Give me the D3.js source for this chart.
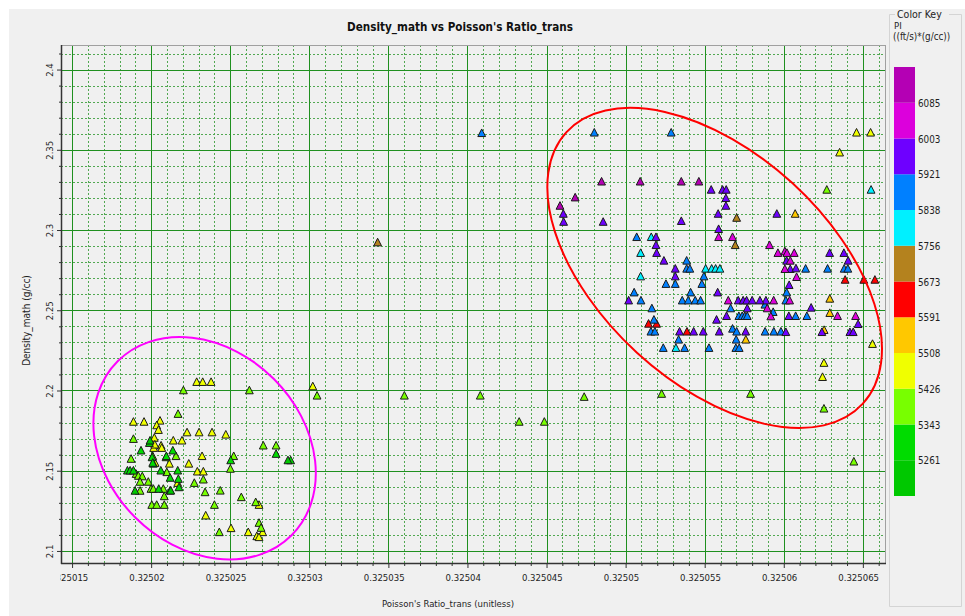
<!DOCTYPE html>
<html>
<head>
<meta charset="utf-8">
<script src="https://cdn.jsdelivr.net/npm/d3@7"></script>
<style>
  html, body { margin: 0; padding: 0; background: #ffffff; }
  svg { display: block; }
  text { font-family: "DejaVu Sans Condensed", "DejaVu Sans", sans-serif; }
</style>
</head>
<body>
<svg id="chart" width="965" height="616"></svg>
<script>
// ---- Axis ticks -------------------------------------------------------------
const xTicks = [0.325015, 0.32502, 0.325025, 0.32503, 0.325035, 0.32504, 0.325045, 0.32505, 0.325055, 0.32506, 0.325065];
const xTickLabels = ["0.325015", "0.32502", "0.325025", "0.32503", "0.325035", "0.32504", "0.325045", "0.32505", "0.325055", "0.32506", "0.325065"];
const yTicks = [2.1, 2.15, 2.2, 2.25, 2.3, 2.35, 2.4];
const yTickLabels = ["2.1", "2.15", "2.2", "2.25", "2.3", "2.35", "2.4"];

// ---- Colour key: PI class breaks and colours (low -> high) -------------------
const piBreaks = [5261, 5343, 5426, 5508, 5591, 5673, 5756, 5838, 5921, 6003, 6085];
const piColors = ["#00c800", "#00dc00", "#78ff00", "#f0ff00", "#ffc800", "#ff0000",
                  "#b4821e", "#00f0ff", "#0080ff", "#6e00ff", "#dc00dc", "#b400b4"];

// ---- Samples: Poisson's ratio, density and PI --------------------------------
const poissonRatio = [
  // 5426-5508
  0.32502288,0.32502326,0.32502379,0.32501888,0.32501955,0.32502056,0.32502035,0.32502046,0.32502227,0.32502303,0.32502385,0.32502472,0.3250202,0.32502063,0.32502067,0.3250214,0.32502195,0.32502322,0.32502115,0.32502238,0.32502292,0.3250233,0.32502168,0.32502682,0.32502345,0.32502505,0.32502614,0.32502668,0.32502705,0.32502682,0.32502016,0.32502023,0.32502025,0.32503022,
  // 5343-5426
  0.32502204,0.32502621,0.3250217,0.32501888,0.32502094,0.32502157,0.32502709,0.3250279,0.32502522,0.32502501,0.32501873,0.32502099,0.32501905,0.32501919,0.32501944,0.3250193,0.32501982,0.32502273,0.3250233,0.3250193,0.32501999,0.32502014,0.32502077,0.32502341,0.32502437,0.32502083,0.3250257,0.32502004,0.32502035,0.32502083,0.325024,0.32502661,0.32502682,0.32502431,0.32502695,0.3250201,
  0.32503049,0.32503601,0.32504081,0.32504327,0.32504486,0.32504738,0.32505228,0.3250579,0.32506254,0.32506443,0.32506272,
  // 5261-5343
  0.32501936,0.32502137,0.32502006,0.3250279,0.32502882,0.32502503,0.32502014,0.32502061,0.32502168,0.3250185,0.32501867,0.32501888,0.3250212,0.32502172,0.32502176,0.32502048,0.3250212,0.32501989,0.32502096,0.3250201,
  // below 5261
  0.32501993,0.32502865,0.32501898,0.32502124,
  // 5508-5591
  0.32506072,0.32506291,0.32506291,0.32506255,0.3250576,
  // 5426-5508
  0.3250646,0.32506549,0.32506353,0.32506561,0.32506254,0.32506245,
  // 5591-5673
  0.32506388,0.32506506,0.32506576,0.32505145,0.32505196,0.32505388,
  // 5673-5756
  0.32503432,0.32505702,0.32505693,
  // 5756-5838
  0.32506552,0.32505162,0.32505095,0.32505095,0.32505506,0.32505544,0.32505569,0.32505596,0.32505318,
  // 5838-5921
  0.3250409,0.32504802,0.32505288,0.3250507,0.32505386,0.32505386,0.32505406,0.32505255,0.32505314,0.32505495,
  0.32505482,0.32505054,0.32505097,0.32505411,0.32505358,0.32505396,0.3250544,0.32505474,0.32506018,0.32506013,
  0.32505166,0.32505664,0.32505933,0.32505716,0.32505737,0.32505754,0.32505769,0.32506075,0.32506146,0.32506138,
  0.32506277,0.32506382,0.32506405,0.32505881,0.32505179,0.3250516,0.32505185,0.32505676,0.32505702,0.32505882,
  0.32505937,0.32505982,0.32505335,0.32505699,0.32505238,0.32505373,0.32505527,0.32505697,0.32505718,
  // 5921-6003
  0.32505541,0.32505613,0.32505636,0.32505634,0.32505634,0.32504606,0.32504608,0.32504858,0.32505352,0.32505585,
  0.32505956,0.32505588,0.32505192,0.32505192,0.32505196,0.3250629,0.3250638,0.32506018,0.32506407,0.32506041,
  0.32506077,0.32506034,0.32505887,0.32506173,0.32506032,0.3250647,0.32506013,0.32506241,0.32506418,0.32506439,
  0.32505242,0.32505314,0.32505314,0.32505019,0.32505582,0.32505712,0.32505743,0.32505765,0.325058,0.32505849,
  0.32505769,0.32505638,0.32505575,0.32505341,0.3250543,0.32505491,0.32505592,0.32505759,
  // 6003-6085
  0.32505588,0.32505676,0.3250591,0.32505963,0.32506007,0.3250602,0.32506066,0.32506041,0.32506007,0.32506081,
  0.32505936,0.32506037,0.32505895,0.32505918,0.3250634,0.32506454,0.32505649,
  // above 6085
  0.32504848,0.32505092,0.32505352,0.32505463,0.32504681,0.32504585
];

const densityMath = [
  // 5426-5508
  2.2052,2.2052,2.2052,2.1804,2.1804,2.1811,2.1782,2.1753,2.1738,2.1738,2.1738,2.1724,2.1704,2.1656,2.1641,2.1687,2.1687,2.1590,2.1543,2.1543,2.1494,2.1494,2.1423,2.1286,2.1220,2.1141,2.1116,2.1091,2.1116,2.1085,2.1641,2.1662,2.1548,2.2025,
  // 5343-5426
  2.2000,2.2000,2.1853,2.1697,2.1583,2.1590,2.1656,2.1656,2.1590,2.1511,2.1573,2.1490,2.1479,2.1467,2.1464,2.1430,2.1430,2.1423,2.1444,2.1374,2.1386,2.1386,2.1386,2.1365,2.1375,2.1340,2.1334,2.1286,2.1286,2.1286,2.1286,2.1303,2.1174,2.1116,2.1143,2.1590,
  2.1967,2.1967,2.1967,2.1804,2.1804,2.1959,2.1978,2.1978,2.1886,2.1556,2.3250,
  // 5261-5343
  2.1625,2.1625,2.1583,2.1604,2.1564,2.1564,2.1543,2.1500,2.1500,2.1500,2.1500,2.1500,2.1455,2.1448,2.1396,2.1386,2.1375,2.1672,2.1590,2.1548,
  // below 5261
  2.1687,2.1564,2.1374,2.1375,
  // 5508-5591
  2.3100,2.2571,2.2482,2.2376,2.2316,
  // 5426-5508
  2.3606,2.3606,2.3482,2.2289,2.2171,2.2083,
  // 5591-5673
  2.2689,2.2689,2.2689,2.2415,2.2415,2.2366,
  // 5673-5756
  2.2922,2.3075,2.2905,
  // 5756-5838
  2.3250,2.2955,2.2856,2.2710,2.2758,2.2758,2.2758,2.2758,2.2264,
  // 5838-5921
  2.3603,2.3606,2.3606,2.2955,2.2808,2.2758,2.2758,2.2663,2.2663,2.2710,
  2.2663,2.2610,2.2560,2.2610,2.2560,2.2560,2.2560,2.2560,2.2610,2.2560,
  2.2511,2.2511,2.2488,2.2463,2.2463,2.2463,2.2463,2.2463,2.2463,2.2758,
  2.2758,2.2758,2.2758,2.2534,2.2440,2.2366,2.2366,2.2384,2.2366,2.2366,
  2.2366,2.2366,2.2316,2.2316,2.2264,2.2264,2.2264,2.2264,2.2264,
  // 5921-6003
  2.3250,2.3250,2.3250,2.3198,2.3150,2.3100,2.3050,2.3050,2.3055,2.3100,
  2.3100,2.3005,2.2955,2.2905,2.2856,2.2856,2.2856,2.2808,2.2808,2.2756,
  2.2760,2.2656,2.2560,2.2515,2.2463,2.2413,2.2363,2.2363,2.2363,2.2363,
  2.2808,2.2758,2.2710,2.2560,2.2610,2.2560,2.2560,2.2560,2.2560,2.2560,
  2.2511,2.2463,2.2440,2.2366,2.2366,2.2366,2.2366,2.2366,
  // 6003-6085
  2.2955,2.2955,2.2905,2.2856,2.2866,2.2856,2.2856,2.2808,2.2756,2.2706,
  2.2560,2.2560,2.2511,2.2461,2.2463,2.2463,2.2560,
  // above 6085
  2.3301,2.3301,2.3301,2.3301,2.3202,2.3150
];

const piValue = [
  // 5426-5508
  5470,5470,5470,5470,5470,5470,5470,5470,5470,5470,5470,5470,5470,5470,5470,5470,5470,5470,5470,5470,5470,5470,5470,5470,5470,5470,5470,5470,5470,5470,5470,5470,5470,5470,
  // 5343-5426
  5390,5390,5390,5390,5390,5390,5390,5390,5390,5390,5390,5390,5390,5390,5390,5390,5390,5390,5390,5390,5390,5390,5390,5390,5390,5390,5390,5390,5390,5390,5390,5390,5390,5390,5390,5390,
  5390,5390,5390,5390,5390,5390,5390,5390,5390,5390,5390,
  // 5261-5343
  5300,5300,5300,5300,5300,5300,5300,5300,5300,5300,5300,5300,5300,5300,5300,5300,5300,5300,5300,5300,
  // below 5261
  5230,5230,5230,5230,
  // 5508-5591
  5550,5550,5550,5550,5550,
  // 5426-5508
  5470,5470,5470,5470,5470,5470,
  // 5591-5673
  5630,5630,5630,5630,5630,5630,
  // 5673-5756
  5710,5710,5710,
  // 5756-5838
  5800,5800,5800,5800,5800,5800,5800,5800,5800,
  // 5838-5921
  5880,5880,5880,5880,5880,5880,5880,5880,5880,5880,
  5880,5880,5880,5880,5880,5880,5880,5880,5880,5880,
  5880,5880,5880,5880,5880,5880,5880,5880,5880,5880,
  5880,5880,5880,5880,5880,5880,5880,5880,5880,5880,
  5880,5880,5880,5880,5880,5880,5880,5880,5880,
  // 5921-6003
  5960,5960,5960,5960,5960,5960,5960,5960,5960,5960,
  5960,5960,5960,5960,5960,5960,5960,5960,5960,5960,
  5960,5960,5960,5960,5960,5960,5960,5960,5960,5960,
  5960,5960,5960,5960,5960,5960,5960,5960,5960,5960,
  5960,5960,5960,5960,5960,5960,5960,5960,
  // 6003-6085
  6040,6040,6040,6040,6040,6040,6040,6040,6040,6040,
  6040,6040,6040,6040,6040,6040,6040,
  // above 6085
  6120,6120,6120,6120,6120,6120
];

// Hand-drawn cluster outlines: centre in data units, axes in screen pixels.
const clusterOutlines = [
  { cx: 0.32502338, cy: 2.1640, rx: 123, ry: 98, angle: 45, stroke: "#ff00ff" },
  { cx: 0.32505563, cy: 2.2764, rx: 201, ry: 115, angle: 42.5, stroke: "#ff0000" }
];

// ---- Layout -------------------------------------------------------------------
const W = 965, H = 616;
const plot = { left: 61, right: 885, top: 45, bottom: 563 };
const textColor = "#1e1e1e";

const svg = d3.select("#chart");
svg.append("rect").attr("width", W).attr("height", H).attr("fill", "#ffffff");
svg.append("rect").attr("x", 9).attr("y", 9).attr("width", W - 9).attr("height", H - 9).attr("fill", "#f0f0f0");

const x = d3.scaleLinear().domain([0.3250143, 0.3250664]).range([plot.left, plot.right]);
const y = d3.scaleLinear().domain([2.0925, 2.4153]).range([plot.bottom, plot.top]);
const piColor = d3.scaleThreshold().domain(piBreaks).range(piColors);

const defs = svg.append("defs");
defs.append("clipPath").attr("id", "plotClip")
  .append("rect").attr("x", plot.left).attr("y", plot.top)
  .attr("width", plot.right - plot.left).attr("height", plot.bottom - plot.top);
// the x-axis group is translated to the bottom edge, so this rect is in its local space
defs.append("clipPath").attr("id", "xLabelClip")
  .append("rect").attr("x", 60.5).attr("y", -2).attr("width", W).attr("height", 40);

const crisp = v => Math.round(v) + 0.5;

// minor grid values (every 1e-6 on x, every 0.01 on y)
const xMinor = d3.range(15, 67).filter(i => i % 5 !== 0).map(i => +(0.325 + i * 1e-6).toFixed(7));
const yMinor = d3.range(210, 242).filter(i => i % 5 !== 0).map(i => i / 100);

// ---- Grid ---------------------------------------------------------------------
const grid = svg.append("g").attr("clip-path", "url(#plotClip)");
grid.selectAll("line.vmin").data(xMinor).join("line").attr("class", "vmin")
  .attr("x1", d => crisp(x(d))).attr("x2", d => crisp(x(d)))
  .attr("y1", plot.top).attr("y2", plot.bottom)
  .attr("stroke", "#52a852").attr("stroke-width", 1).attr("stroke-dasharray", "2,2");
grid.selectAll("line.hmin").data(yMinor).join("line").attr("class", "hmin")
  .attr("y1", d => crisp(y(d))).attr("y2", d => crisp(y(d)))
  .attr("x1", plot.left).attr("x2", plot.right)
  .attr("stroke", "#52a852").attr("stroke-width", 1).attr("stroke-dasharray", "2,2");
grid.selectAll("line.vmaj").data(xTicks).join("line").attr("class", "vmaj")
  .attr("x1", d => crisp(x(d))).attr("x2", d => crisp(x(d)))
  .attr("y1", plot.top).attr("y2", plot.bottom)
  .attr("stroke", "#1f901f").attr("stroke-width", 1);
grid.selectAll("line.hmaj").data(yTicks).join("line").attr("class", "hmaj")
  .attr("y1", d => crisp(y(d))).attr("y2", d => crisp(y(d)))
  .attr("x1", plot.left).attr("x2", plot.right)
  .attr("stroke", "#1f901f").attr("stroke-width", 1);

// frame: light top/right, dark axis lines left/bottom
svg.append("line").attr("x1", plot.left).attr("x2", plot.right + 0.5).attr("y1", plot.top + 0.5).attr("y2", plot.top + 0.5)
  .attr("stroke", "#a0a0a0");
svg.append("line").attr("x1", plot.right + 0.5).attr("x2", plot.right + 0.5).attr("y1", plot.top).attr("y2", plot.bottom)
  .attr("stroke", "#a0a0a0");

// ---- Axes ---------------------------------------------------------------------
const axisColor = "#333333";
const tickFont = 9.5;
const xMinorAxis = svg.append("g").attr("transform", `translate(0,${plot.bottom})`)
  .call(d3.axisBottom(x).tickValues(xMinor).tickSize(3).tickFormat(""));
const xAxis = svg.append("g").attr("transform", `translate(0,${plot.bottom})`)
  .attr("clip-path", "url(#xLabelClip)")
  .call(d3.axisBottom(x).tickValues(xTicks).tickSize(5).tickFormat((d, i) => xTickLabels[i]));
xAxis.selectAll("text").attr("y", 11).attr("x", -4.7).attr("dy", "0.71em")
  .attr("font-size", tickFont).attr("fill", textColor);

const yMinorAxis = svg.append("g").attr("transform", `translate(${plot.left},0)`)
  .call(d3.axisLeft(y).tickValues(yMinor).tickSize(2).tickFormat(""));
const yAxis = svg.append("g").attr("transform", `translate(${plot.left},0)`)
  .call(d3.axisLeft(y).tickValues(yTicks).tickSize(4).tickFormat((d, i) => yTickLabels[i]));
yAxis.selectAll("text").attr("transform", "rotate(-90)")
  .attr("x", 0).attr("y", -7.7).attr("dy", 0).attr("text-anchor", "middle")
  .attr("font-size", tickFont).attr("fill", textColor);

[xMinorAxis, xAxis, yMinorAxis, yAxis].forEach(g => {
  g.select(".domain").remove();
  g.selectAll(".tick line").attr("stroke", axisColor);
});

svg.append("line").attr("x1", plot.left + 0.5).attr("x2", plot.left + 0.5).attr("y1", plot.top).attr("y2", plot.bottom + 1)
  .attr("stroke", axisColor).attr("stroke-width", 1.5);
svg.append("line").attr("x1", plot.left).attr("x2", plot.right + 1).attr("y1", plot.bottom + 0.5).attr("y2", plot.bottom + 0.5)
  .attr("stroke", axisColor).attr("stroke-width", 1.5);

// ---- Points -------------------------------------------------------------------
const n = Math.min(poissonRatio.length, densityMath.length, piValue.length);
const samples = d3.range(n).map(i => ({ pr: poissonRatio[i], rho: densityMath[i], pi: piValue[i] }));
const tri = "M0,-4.3L3.9,3.3L-3.9,3.3Z";

svg.append("g").attr("clip-path", "url(#plotClip)")
  .selectAll("path").data(samples).join("path")
  .attr("d", tri)
  .attr("transform", d => `translate(${x(d.pr)},${y(d.rho)})`)
  .attr("fill", d => piColor(d.pi))
  .attr("stroke", "#1a1a1a").attr("stroke-width", 1).attr("stroke-linejoin", "miter");

// ---- Cluster outlines ------------------------------------------------------------
svg.append("g").attr("clip-path", "url(#plotClip)")
  .selectAll("ellipse").data(clusterOutlines).join("ellipse")
  .attr("cx", d => x(d.cx)).attr("cy", d => y(d.cy))
  .attr("rx", d => d.rx).attr("ry", d => d.ry)
  .attr("transform", d => `rotate(${d.angle} ${x(d.cx)} ${y(d.cy)})`)
  .attr("fill", "none").attr("stroke", d => d.stroke).attr("stroke-width", 2);

// ---- Titles ---------------------------------------------------------------------
svg.append("text").attr("x", 460).attr("y", 31).attr("text-anchor", "middle")
  .attr("font-size", 11.6).attr("font-weight", "bold").attr("fill", "#111")
  .text("Density_math vs Poisson's Ratio_trans");
svg.append("text").attr("x", 448).attr("y", 607).attr("text-anchor", "middle")
  .attr("font-size", 9.5).attr("fill", textColor)
  .text("Poisson's Ratio_trans (unitless)");
svg.append("text").attr("transform", "translate(30,320.5) rotate(-90)").attr("text-anchor", "middle")
  .attr("font-size", 10).attr("fill", textColor)
  .text("Density_math (g/cc)");

// ---- Colour key -----------------------------------------------------------------
const key = svg.append("g");
key.append("path")
  .attr("d", "M895,14.5H889.5V606.5H961.5V14.5H949")
  .attr("fill", "none").attr("stroke", "#d4d4d4");
key.append("text").attr("x", 897).attr("y", 17.5).attr("font-size", 10.5).attr("fill", textColor).text("Color Key");
key.append("text").attr("x", 894).attr("y", 29).attr("font-size", 9.5).attr("fill", textColor).text("PI");
key.append("text").attr("x", 893).attr("y", 40).attr("font-size", 9.8).attr("fill", textColor).text("((ft/s)*(g/cc))");

const keyY = d3.scaleLinear().domain([0, piColors.length]).range([496, 67]);
key.selectAll("rect.band").data(piColors).join("rect").attr("class", "band")
  .attr("x", 894).attr("width", 21)
  .attr("y", (d, i) => keyY(i + 1)).attr("height", (d, i) => keyY(i) - keyY(i + 1))
  .attr("fill", d => d);
key.selectAll("text.brk").data(piBreaks).join("text").attr("class", "brk")
  .attr("x", 918).attr("y", (d, i) => keyY(i + 1) + 1)
  .attr("dominant-baseline", "middle").attr("font-size", 9.8).attr("fill", textColor)
  .text(d => d);
</script>
</body>
</html>
